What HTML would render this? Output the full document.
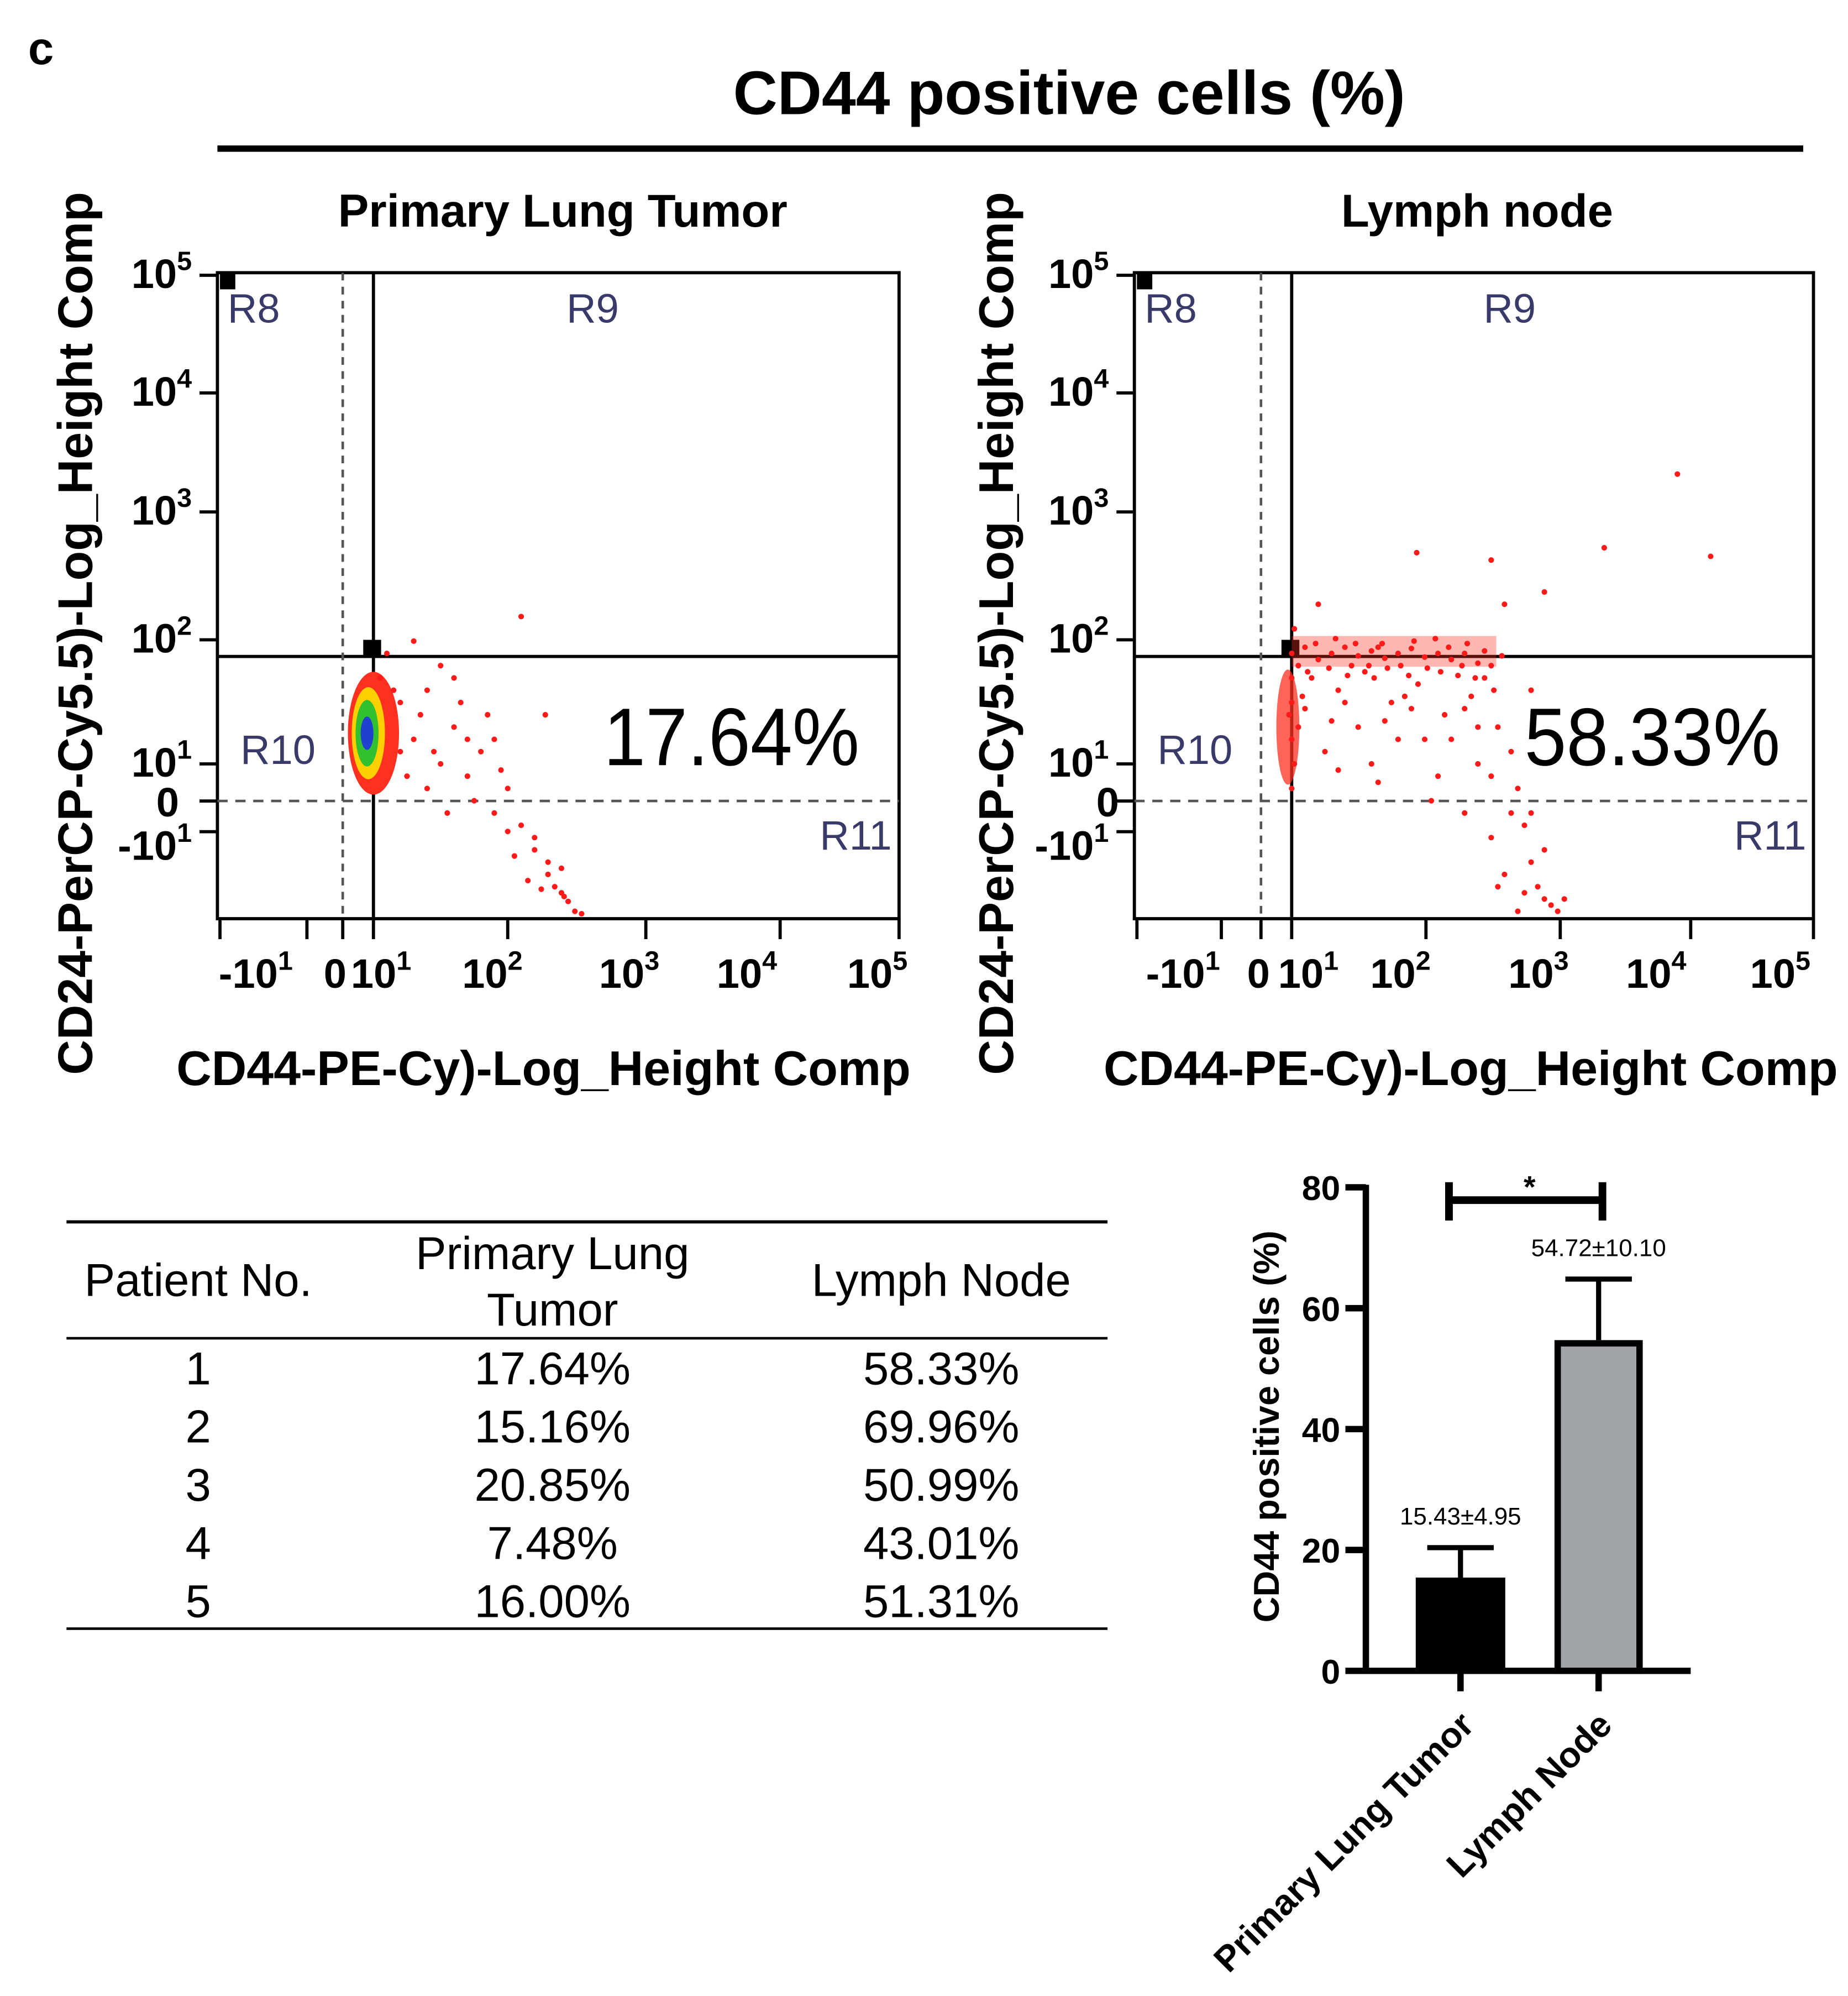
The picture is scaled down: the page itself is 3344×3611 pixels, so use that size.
<!DOCTYPE html>
<html><head><meta charset="utf-8">
<style>
html,body{margin:0;padding:0;background:#fff;}
svg{display:block;font-family:"Liberation Sans",Arial,sans-serif;}
</style></head>
<body>
<svg id="fig" width="3344" height="3611" viewBox="0 0 1445 1560" xmlns="http://www.w3.org/2000/svg">
<text x="22" y="50" font-size="36" font-weight="bold">c</text>
<text x="836" y="89" font-size="48" font-weight="bold" text-anchor="middle">CD44 positive cells (%)</text>
<line x1="170" y1="116" x2="1410" y2="116" stroke="#000" stroke-width="5"/>
<g id="plots"></g>
<g id="table"></g>
<g id="bar"></g>
</svg>
<script>
const NS="http://www.w3.org/2000/svg";
function mk(tag,attrs,parent,text){const e=document.createElementNS(NS,tag);for(const k in attrs)e.setAttribute(k,attrs[k]);if(text!==undefined)e.textContent=text;parent.appendChild(e);return e;}

// ---- Flow plot data (values in decade units: 1 = 10^1, 2 = 10^2 ...) ----
const leftPoints=[[1.2,1.5],[1.3,1.2],[1.4,1.6],[1.5,1.0],[1.6,1.3],[1.7,0.9],[1.8,1.1],[1.9,0.6],[2.0,0.8],[2.1,0.5],[2.2,0.3],[2.3,0.1],[2.4,-0.05],[2.45,-0.12],[2.5,-0.2],[2.55,-0.22],[2.2,0.4],[2.35,0.0],[1.5,1.8],[1.1,1.9],[1.25,0.9],[1.35,1.4],[1.45,1.1],[1.65,1.5],[1.75,0.7],[1.95,0.95],[2.05,0.25],[2.42,-0.08],[2.3,0.2],[2.4,0.15],[1.55,0.6],[1.85,1.4],[2.28,1.4],[2.1,2.2],[1.15,1.6],[1.05,1.7],[1.3,2.0],[2.15,0.05],[2.25,-0.02],[1.6,1.7],[1.7,1.2],[1.2,1.1],[1.4,0.8],[2.0,0.45],[1.9,1.2]];
const rightPoints=[[1.0,1.9],[1.1,1.95],[1.2,1.85],[1.3,1.9],[1.4,1.95],[1.5,1.88],[1.6,1.92],[1.7,1.86],[1.8,1.9],[1.9,1.94],[2.0,1.87],[2.1,1.9],[2.2,1.85],[2.3,1.9],[2.4,1.82],[2.5,1.8],[1.15,1.7],[1.35,1.6],[1.55,1.75],[1.75,1.5],[1.95,1.65],[2.15,1.4],[2.35,1.55],[2.55,1.3],[2.65,1.1],[2.7,0.8],[2.75,0.5],[2.8,0.2],[2.85,0.0],[2.9,-0.1],[3.0,-0.2],[2.5,0.4],[2.6,0.1],[2.3,0.6],[2.1,0.9],[1.8,1.2],[1.5,1.3],[1.25,1.1],[1.05,1.3],[1.0,1.5],[1.02,1.0],[1.0,0.8],[2.95,-0.15],[2.7,-0.2],[2.4,1.0],[2.0,1.2],[1.6,1.0],[1.94,2.72],[2.5,2.66],[3.35,2.76],[3.9,3.36],[4.15,2.69],[2.9,2.4],[2.6,2.3],[1.2,2.3],[2.8,1.6],[2.45,1.7],[1.45,1.8],[1.65,1.95],[2.25,1.72],
[1.05,1.8],[1.12,1.75],[1.18,1.98],[1.28,1.78],[1.33,2.02],[1.42,1.72],[1.48,1.98],[1.58,1.8],[1.62,1.7],[1.68,1.98],[1.72,1.78],[1.82,1.8],[1.88,1.72],[1.92,2.0],[2.02,1.78],[2.08,2.02],[2.12,1.75],[2.18,1.95],[2.28,1.8],[2.32,1.98],[2.38,1.7],[2.45,1.92],[2.52,1.6],[2.58,1.88],[1.1,1.45],[1.3,1.35],[1.7,1.35],[1.9,1.45],[2.2,1.2],[2.4,1.3],[1.35,0.95],[1.65,0.85],[2.05,0.7],[2.5,0.9],[2.65,0.6],[2.55,0.0],[2.8,0.6],[2.75,-0.05],[3.05,-0.1],[2.9,0.3],[1.0,1.2],[1.0,1.7],[0.98,1.4],[1.02,2.1],[1.08,1.55],[1.4,1.5],[1.85,1.55],[2.3,1.45]];

// axis mapping helpers
function xMap(ox,dec){return u=>ox+(u-1)*dec;}
function yMap(u){return 597-(u-1)*96;}

function flowPlot(cfg){
  const g=mk('g',{},document.getElementById('plots'));
  const X=xMap(cfg.gateX,cfg.dec);
  mk('text',{x:cfg.titleX,y:177,'font-size':36,'font-weight':'bold','text-anchor':'middle',},g,cfg.title);
  mk('rect',{x:cfg.x0,y:213,width:cfg.x1-cfg.x0,height:505,fill:'none',stroke:'#000','stroke-width':2.5,},g);
  mk('line',{x1:cfg.x0,y1:513,x2:cfg.x1,y2:513,stroke:'#000','stroke-width':2.5,},g);
  mk('line',{x1:cfg.gateX,y1:213,x2:cfg.gateX,y2:718,stroke:'#000','stroke-width':2.5,},g);
  mk('line',{x1:cfg.dashX,y1:213,x2:cfg.dashX,y2:718,stroke:'#555','stroke-width':2,'stroke-dasharray':'6,5',},g);
  mk('line',{x1:cfg.x0,y1:626,x2:cfg.x1,y2:626,stroke:'#555','stroke-width':2,'stroke-dasharray':'8,6',},g);
  mk('rect',{x:cfg.x0+2,y:214,width:12,height:12,fill:'#000',},g);
  mk('rect',{x:cfg.gateX-8,y:500,width:14,height:14,fill:'#000',},g);
  if(cfg.blob){
    mk('ellipse',{cx:X(1),cy:yMap(1.25),rx:20,ry:48,fill:'#ff3020',},g);
    mk('ellipse',{cx:X(1)-4,cy:yMap(1.25),rx:13,ry:36,fill:'#ffd000',},g);
    mk('ellipse',{cx:X(1)-5,cy:yMap(1.25),rx:9,ry:26,fill:'#30c030',},g);
    mk('ellipse',{cx:X(1)-5,cy:yMap(1.25),rx:5,ry:13,fill:'#2040d0',},g);
  } else {
    mk('ellipse',{cx:X(1)-3,cy:yMap(1.3),rx:9,ry:45,fill:'#ff3020',opacity:0.75,},g);
    mk('rect',{x:X(1),y:yMap(2)-4,width:160,height:24,fill:'#ff3020',opacity:0.35,},g);
  }
  cfg.points.forEach(p=>{
    const c=mk('circle',{cx:X(p[0]),cy:yMap(p[1]),r:2.2,fill:'#ff1a1a'},g);
    
    
  });
  const rc='#3a3a6a';
  mk('text',{x:cfg.x0+8,y:252,'font-size':32,fill:rc,},g,'R8');
  mk('text',{x:cfg.r9x,y:252,'font-size':32,fill:rc,},g,'R9');
  mk('text',{x:cfg.x0+18,y:597,'font-size':32,fill:rc,},g,'R10');
  mk('text',{x:cfg.x1-62,y:664,'font-size':32,fill:rc,},g,'R11');
  mk('text',{x:cfg.pctX,y:598,'font-size':64,'textLength':200,'lengthAdjust':'spacingAndGlyphs',},g,cfg.pct);
  const yt=[[215,'5'],[307,'4'],[400,'3'],[500,'2'],[597,'1']];
  yt.forEach(t=>{
    mk('line',{x1:cfg.x0-14,y1:t[0],x2:cfg.x0,y2:t[0],stroke:'#000','stroke-width':2.5},g);
    const tx=mk('text',{x:cfg.x0-20,y:t[0]+10,'font-size':32,'font-weight':'bold','text-anchor':'end',},g);
    mk('tspan',{},tx,'10');mk('tspan',{dy:-14,'font-size':21},tx,t[1]);
  });
  mk('line',{x1:cfg.x0-14,y1:626,x2:cfg.x0,y2:626,stroke:'#000','stroke-width':2.5},g);
  mk('line',{x1:cfg.x0-14,y1:650,x2:cfg.x0,y2:650,stroke:'#000','stroke-width':2.5},g);
  mk('text',{x:cfg.zeroYX,y:638,'font-size':32,'font-weight':'bold','text-anchor':'end',},g,'0');
  const nt=mk('text',{x:cfg.x0-20,y:672,'font-size':32,'font-weight':'bold','text-anchor':'end',},g);
  mk('tspan',{},nt,'-10');mk('tspan',{dy:-14,'font-size':21},nt,'1');
  cfg.xticks.forEach(t=>{
    mk('line',{x1:t,y1:718,x2:t,y2:734,stroke:'#000','stroke-width':2.5},g);
  });
  cfg.xlabels.forEach(t=>{
    const tx=mk('text',{x:t[0],y:772,'font-size':32,'font-weight':'bold','text-anchor':'middle',},g);
    if(t[1]==='0'){tx.textContent='0';}
    else{mk('tspan',{},tx,t[1]);mk('tspan',{dy:-14,'font-size':21},tx,t[2]);}
  });
  mk('text',{x:cfg.xlabX,y:848,'font-size':38,'font-weight':'bold','text-anchor':'middle',},g,'CD44-PE-Cy)-Log_Height Comp');
  mk('text',{x:0,y:0,'font-size':38,'font-weight':'bold','text-anchor':'middle',transform:`translate(${cfg.ylabX},495) rotate(-90)`,},g,'CD24-PerCP-Cy5.5)-Log_Height Comp');
}
flowPlot({name:'flow-plot-primary',title:'Primary Lung Tumor',titleX:440,x0:170,x1:703,gateX:292,dashX:268,dec:105,points:leftPoints,blob:true,r9x:443,pct:'17.64%',pctX:472,zeroYX:140,
  xticks:[172,240,268,292,397,505,610,703],xlabels:[[200,'-10','1'],[262,'0'],[298,'10','1'],[385,'10','2'],[492,'10','3'],[584,'10','4'],[686,'10','5']],xlabX:425,ylabX:72});
flowPlot({name:'flow-plot-lymph',title:'Lymph node',titleX:1155,x0:887,x1:1418,gateX:1010,dashX:986,dec:104,points:rightPoints,blob:false,r9x:1160,pct:'58.33%',pctX:1192,zeroYX:875,
  xticks:[889,955,986,1010,1115,1220,1322,1418],xlabels:[[925,'-10','1'],[984,'0'],[1023,'10','1'],[1095,'10','2'],[1203,'10','3'],[1295,'10','4'],[1392,'10','5']],xlabX:1150,ylabX:792});

// ---- Table ----
const patients=['1','2','3','4','5'];
const primaryVals=['17.64%','15.16%','20.85%','7.48%','16.00%'];
const lymphVals=['58.33%','69.96%','50.99%','43.01%','51.31%'];
(function(){
  const t=document.getElementById('table');
  [[955,2.5],[1046,2],[1273,2]].forEach(l=>mk('line',{x1:52,y1:l[0],x2:866,y2:l[0],stroke:'#000','stroke-width':l[1],},t));
  mk('text',{x:155,y:1013,'font-size':36,'text-anchor':'middle',},t,'Patient No.');
  mk('text',{x:432,y:992,'font-size':36,'text-anchor':'middle',},t,'Primary Lung');
  mk('text',{x:432,y:1036,'font-size':36,'text-anchor':'middle',},t,'Tumor');
  mk('text',{x:736,y:1013,'font-size':36,'text-anchor':'middle',},t,'Lymph Node');
  patients.forEach((p,i)=>{
    const y=1082+i*45.5;
    const a=mk('text',{x:155,y:y,'font-size':36,'text-anchor':'middle'},t,p);
    
    const b=mk('text',{x:432,y:y,'font-size':36,'text-anchor':'middle'},t,primaryVals[i]);
    
    const c=mk('text',{x:736,y:y,'font-size':36,'text-anchor':'middle'},t,lymphVals[i]);
    
  });
})();

// ---- Bar chart ----
const categories=['Primary Lung Tumor','Lymph Node'];
const means=[15.43,54.72];
const sds=[4.95,10.10];
const valueLabels=['15.43±4.95','54.72±10.10'];
const yTicks=[0,20,40,60,80];
(function(){
  const g=document.getElementById('bar');
  const y0=1306,y1=928,ax=1068;
  const Y=v=>y0-(v/80)*(y0-y1);
  const cx=[1142,1250];
  const fills=['#000','#a2a3a6'];
  mk('line',{x1:ax,y1:y1-2,x2:ax,y2:y0,stroke:'#000','stroke-width':5,},g);
  mk('line',{x1:ax-16,y1:y0,x2:1322,y2:y0,stroke:'#000','stroke-width':5,},g);
  yTicks.forEach(v=>{
    mk('line',{x1:ax-16,y1:Y(v),x2:ax,y2:Y(v),stroke:'#000','stroke-width':5},g);
    const t=mk('text',{x:ax-20,y:Y(v)+10,'font-size':27,'font-weight':'bold','text-anchor':'end'},g,String(v));
    
  });
  means.forEach((m,i)=>{
    const top=Y(m+sds[i]);
    const e=mk('line',{x1:cx[i],y1:top,x2:cx[i],y2:Y(m),stroke:'#000','stroke-width':4},g);
    
    const cap=mk('line',{x1:cx[i]-26,y1:top,x2:cx[i]+26,y2:top,stroke:'#000','stroke-width':4},g);
    
    const b=mk('rect',{x:cx[i]-(i===0?35:32),y:Y(m)+(i===0?0:2.5),width:i===0?70:64,height:y0-Y(m)-(i===0?0:2.5),fill:fills[i],stroke:'#000','stroke-width':i===0?0:5},g);
    
    const l=mk('text',{x:cx[i],y:top-18,'font-size':19,'text-anchor':'middle'},g,valueLabels[i]);
    
    mk('line',{x1:cx[i],y1:y0,x2:cx[i],y2:y0+16,stroke:'#000','stroke-width':5},g);
    const c=mk('text',{x:0,y:0,'font-size':28,'font-weight':'bold','text-anchor':'end',transform:`translate(${cx[i]+12},${y0+44}) rotate(-45)`},g,categories[i]);
    
  });
  mk('line',{x1:1133,y1:938,x2:1253,y2:938,stroke:'#000','stroke-width':6,},g);
  mk('line',{x1:1133,y1:924,x2:1133,y2:954,stroke:'#000','stroke-width':6},g);
  mk('line',{x1:1253,y1:924,x2:1253,y2:954,stroke:'#000','stroke-width':6},g);
  mk('text',{x:1196,y:936,'font-size':24,'font-weight':'bold','text-anchor':'middle',},g,'*');
  mk('text',{x:0,y:0,'font-size':28,'font-weight':'bold','text-anchor':'middle',transform:'translate(1000,1115) rotate(-90)',},g,'CD44 positive cells (%)');
})();
</script>
</body></html>
